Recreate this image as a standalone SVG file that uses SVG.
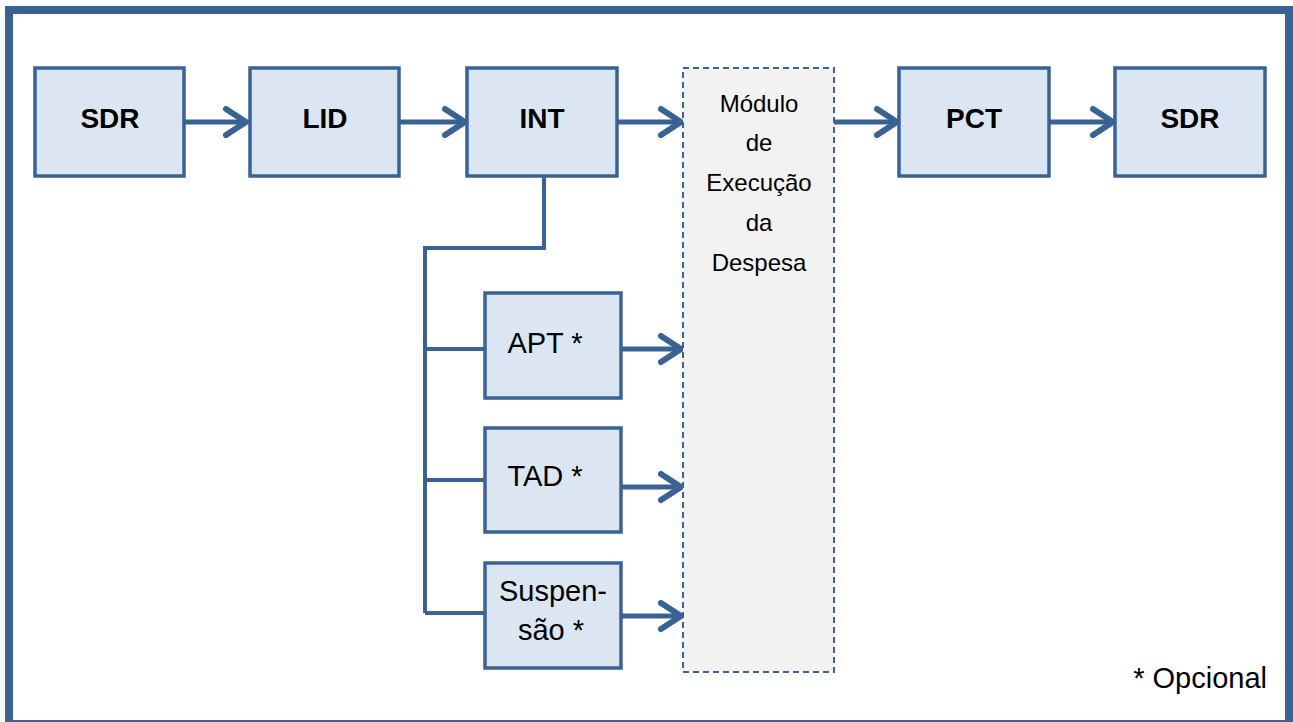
<svg xmlns="http://www.w3.org/2000/svg" width="1293" height="722" viewBox="0 0 1293 722">
<style>
.box{fill:#dce6f2;stroke:#3a6394;stroke-width:3.5}
.mod{fill:#f2f2f2;stroke:#3a6394;stroke-width:2;stroke-dasharray:6 4}
.b{font-family:"Liberation Sans",Arial,sans-serif;font-weight:bold;font-size:28px;fill:#000;text-anchor:middle}
.n{font-family:"Liberation Sans",Arial,sans-serif;font-size:29px;fill:#000;text-anchor:middle}
.m{font-family:"Liberation Sans",Arial,sans-serif;font-size:24px;fill:#000;text-anchor:middle}
.c{fill:none;stroke:#3a6394;stroke-width:4}
.a{fill:none;stroke:#3a6394;stroke-width:5;marker-end:url(#arr)}
</style>
<defs>
<marker id="arr" markerUnits="userSpaceOnUse" viewBox="-26 -18 30 36" refX="0" refY="0" markerWidth="30" markerHeight="36" orient="auto">
<path d="M-20,-13 L0,0 L-20,13" fill="none" stroke="#3a6394" stroke-width="6" stroke-linecap="round" stroke-linejoin="round"/>
</marker>
</defs>
<rect x="0" y="0" width="1293" height="722" fill="#fff"/>
<rect x="9" y="10" width="1280" height="714" fill="none" stroke="#3a6394" stroke-width="8"/>
<g id="connectors">
<line class="a" x1="184" y1="122" x2="246" y2="122"/>
<line class="a" x1="399" y1="122" x2="465" y2="122"/>
<line class="a" x1="617" y1="122" x2="681" y2="122"/>
<line class="a" x1="834" y1="122" x2="897" y2="122"/>
<line class="a" x1="1049" y1="122" x2="1113" y2="122"/>
<path class="c" d="M544,176 V248 H425 V613 M425,349 H485 M425,480 H485 M425,613 H485"/>
<line class="a" x1="621" y1="349" x2="681" y2="349"/>
<line class="a" x1="621" y1="487" x2="681" y2="487"/>
<line class="a" x1="621" y1="616" x2="681" y2="616"/>
</g>
<g id="sdr1"><rect class="box" x="35" y="68" width="149" height="108"/><text class="b" x="110" y="128">SDR</text></g>
<g id="lid"><rect class="box" x="250" y="68" width="149" height="108"/><text class="b" x="325" y="128">LID</text></g>
<g id="int"><rect class="box" x="467" y="68" width="150" height="108"/><text class="b" x="542" y="128">INT</text></g>
<g id="modulo"><rect class="mod" x="683" y="68" width="151" height="604"/>
<text class="m" x="759" y="112">Módulo</text>
<text class="m" x="759" y="151">de</text>
<text class="m" x="759" y="191">Execução</text>
<text class="m" x="759" y="231">da</text>
<text class="m" x="759" y="271">Despesa</text>
</g>
<g id="pct"><rect class="box" x="899" y="68" width="150" height="108"/><text class="b" x="974" y="128">PCT</text></g>
<g id="sdr2"><rect class="box" x="1115" y="68" width="150" height="108"/><text class="b" x="1190" y="128">SDR</text></g>
<g id="apt"><rect class="box" x="485" y="293" width="136" height="105"/><text class="n" x="545" y="353">APT *</text></g>
<g id="tad"><rect class="box" x="485" y="428" width="136" height="104"/><text class="n" x="545" y="486">TAD *</text></g>
<g id="suspensao"><rect class="box" x="485" y="563" width="136" height="105"/><text class="n" x="553" y="601">Suspen-</text><text class="n" x="551" y="640">são *</text></g>
<g id="legenda"><text class="n" x="1267" y="688" style="text-anchor:end">* Opcional</text></g>
</svg>
